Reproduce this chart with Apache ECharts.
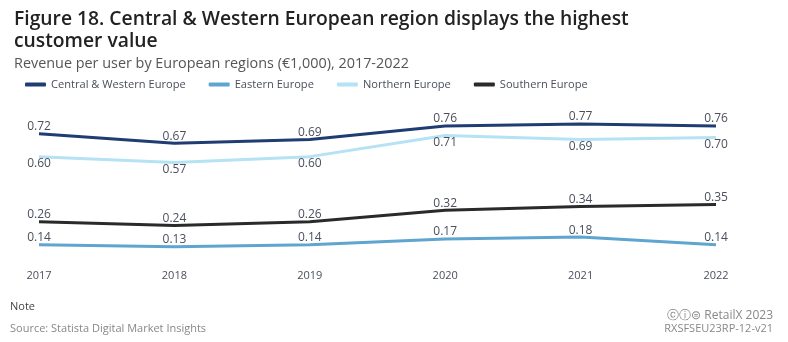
<!DOCTYPE html>
<html><head><meta charset="utf-8">
<script src="https://cdn.jsdelivr.net/npm/echarts@6/dist/echarts.min.js"></script>
<style>html,body{margin:0;padding:0;background:#fff}#c{width:788px;height:342px}</style>
</head><body><div id="c"></div>
<script>
var years = ['2017','2018','2019','2020','2021','2022'];
var centralWestern = [0.72,0.67,0.69,0.76,0.77,0.76];
var eastern = [0.14,0.13,0.14,0.17,0.18,0.14];
var northern = [0.60,0.57,0.60,0.71,0.69,0.70];
var southern = [0.26,0.24,0.26,0.32,0.34,0.35];
var seriesNames = ['Central & Western Europe','Eastern Europe','Northern Europe','Southern Europe'];

var FONT = '"Open Sans","Noto Sans",sans-serif';
var chart = echarts.init(document.getElementById('c'), null, {renderer:'canvas'});
function mk(name, data, color, pos){
  return {name:name, type:'line', data:data, symbol:'circle', symbolSize:0, showSymbol:true, smooth:false,
    lineStyle:{color:color, width:3}, itemStyle:{color:color},
    label:{show:true, position:pos, distance:1, color:'#4a4f5c', fontSize:12, fontFamily:FONT,
      formatter:function(p){return p.value.toFixed(2);}},
    emphasis:{disabled:true}};
}
chart.setOption({
  animation:false,
  textStyle:{fontFamily:FONT},
  title:[
    {text:'Figure 18. Central & Western European region displays the highest\ncustomer value', left:9, top:4,
     textStyle:{fontSize:19.3, fontWeight:600, color:'#222', lineHeight:22, fontFamily:FONT}},
    {text:'Revenue per user by European regions (€1,000), 2017-2022', left:9, top:52,
     textStyle:{fontSize:14.4, fontWeight:'normal', color:'#555', fontFamily:FONT}}
  ],
  legend:{top:74, left:20, itemWidth:21, itemHeight:4, itemGap:23, icon:'roundRect',
    textStyle:{fontSize:11.1, color:'#4a4f5c', fontFamily:FONT}, data:seriesNames},
  grid:{left:39, right:72, top:80, bottom:80},
  xAxis:{type:'category', data:years, boundaryGap:false,
    axisLine:{show:false}, axisTick:{show:false},
    axisLabel:{color:'#4a4f5c', fontSize:11, margin:8, fontFamily:FONT}},
  yAxis:{type:'value', min:0.05, max:1.0, show:false, splitLine:{show:false}},
  series:[
    mk(seriesNames[0], centralWestern, '#1f3d73', 'top'),
    mk(seriesNames[1], eastern, '#5fa5d0', 'top'),
    mk(seriesNames[2], northern, '#b5e2f4', 'bottom'),
    mk(seriesNames[3], southern, '#2a2a2a', 'top')
  ],
  graphic:[
    {type:'text', left:10, top:301, style:{text:'Note', fontSize:11, fill:'#444', fontFamily:FONT}},
    {type:'text', left:10, top:323, style:{text:'Source: Statista Digital Market Insights', fontSize:11, fill:'#888', fontFamily:FONT}},
    {type:'text', right:15, top:310, style:{text:'ⓒⓘ⊜ RetailX 2023', fontSize:12, fill:'#888', fontFamily:FONT, align:'right'}},
    {type:'text', right:15, top:323, style:{text:'RXSFSEU23RP-12-v21', fontSize:11, fill:'#888', fontFamily:FONT, align:'right'}}
  ]
});
</script></body></html>
